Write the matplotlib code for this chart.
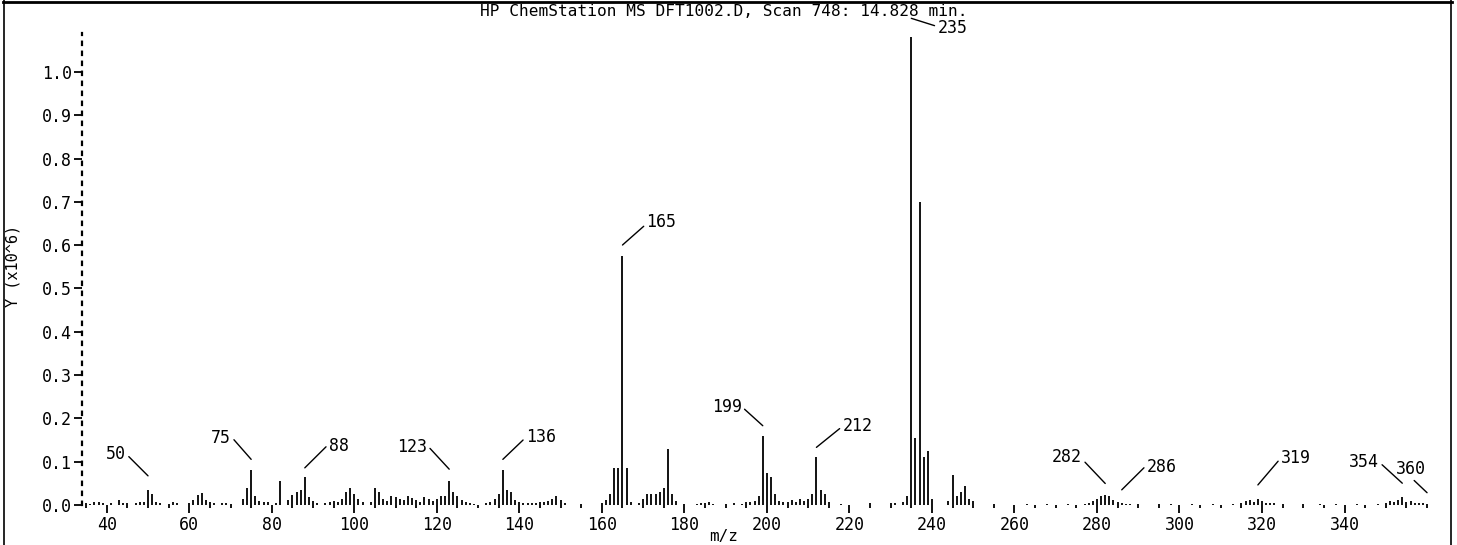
import matplotlib
matplotlib.use("Agg")
import matplotlib.pyplot as plt
from matplotlib.lines import Line2D
from matplotlib.transforms import offset_copy

# ---------------- data (intensity in units of 1e6) ----------------
mz = [35, 36, 37, 38, 39, 41, 43, 44, 45, 47, 48, 49, 50, 51, 52, 53, 55, 56, 57,
      60, 61, 62, 63, 64, 65, 66, 68, 69, 70, 73, 74, 75, 76, 77, 78, 79, 81, 82,
      84, 85, 86, 87, 88, 89, 90, 91, 93, 94, 95, 96, 97, 98, 99, 100, 101, 102,
      104, 105, 106, 107, 108, 109, 110, 111, 112, 113, 114, 115, 116, 117, 118,
      119, 120, 121, 122, 123, 124, 125, 126, 127, 128, 129, 132, 133, 134, 135,
      136, 137, 138, 139, 140, 141, 142, 143, 144, 145, 146, 147, 148, 149, 150,
      151, 155, 160, 161, 162, 163, 164, 165, 166, 167, 169, 170, 171, 172, 173,
      174, 175, 176, 177, 178, 180, 183, 184, 185, 186, 187, 190, 192, 194, 195,
      196, 197, 198, 199, 200, 201, 202, 203, 204, 205, 206, 207, 208, 209, 210,
      211, 212, 213, 214, 215, 218, 225, 230, 231, 233, 234, 235, 236, 237, 238,
      239, 240, 244, 245, 246, 247, 248, 249, 250, 255, 263, 268, 273, 277, 278,
      279, 280, 281, 282, 283, 284, 285, 286, 287, 288, 290, 295, 298, 303, 308,
      313, 315, 316, 317, 318, 319, 320, 321, 322, 323, 325, 330, 334, 338, 343,
      348, 350, 351, 352, 353, 354, 355, 356, 357, 358, 359, 360]
intensity = [0.004, 0.003, 0.008, 0.006, 0.005, 0.004, 0.012, 0.004, 0.005, 0.004,
             0.006, 0.008, 0.035, 0.025, 0.008, 0.004, 0.003, 0.006, 0.004,
             0.005, 0.012, 0.022, 0.028, 0.012, 0.008, 0.004, 0.004, 0.005, 0.003,
             0.015, 0.040, 0.080, 0.020, 0.010, 0.006, 0.006, 0.004, 0.055,
             0.012, 0.022, 0.030, 0.035, 0.065, 0.018, 0.010, 0.005, 0.005, 0.008,
             0.010, 0.006, 0.015, 0.030, 0.040, 0.025, 0.015, 0.008,
             0.008, 0.040, 0.030, 0.015, 0.010, 0.020, 0.018, 0.015, 0.012, 0.020,
             0.016, 0.012, 0.008, 0.018, 0.014,
             0.010, 0.015, 0.020, 0.020, 0.055, 0.030, 0.020, 0.012, 0.008, 0.005,
             0.003, 0.004, 0.008, 0.015, 0.025,
             0.080, 0.035, 0.030, 0.012, 0.008, 0.005, 0.004, 0.004, 0.005, 0.006,
             0.008, 0.010, 0.015, 0.020, 0.012,
             0.005, 0.003, 0.005, 0.012, 0.025, 0.085, 0.085, 0.575, 0.085, 0.008,
             0.005, 0.015, 0.025, 0.025, 0.025,
             0.030, 0.040, 0.130, 0.025, 0.010, 0.003, 0.003, 0.005, 0.004, 0.008,
             0.003, 0.003, 0.004, 0.003, 0.006,
             0.008, 0.010, 0.020, 0.160, 0.075, 0.065, 0.025, 0.010, 0.008, 0.006,
             0.012, 0.008, 0.015, 0.010, 0.015,
             0.025, 0.110, 0.035, 0.025, 0.008, 0.003, 0.005, 0.004, 0.005, 0.008,
             0.020, 1.080, 0.155, 0.700, 0.110,
             0.125, 0.015, 0.010, 0.070, 0.020, 0.030, 0.045, 0.015, 0.010, 0.003,
             0.003, 0.003, 0.003, 0.003, 0.005,
             0.010, 0.015, 0.020, 0.022, 0.020, 0.012, 0.006, 0.005, 0.003, 0.003,
             0.003, 0.003, 0.003, 0.003, 0.003,
             0.003, 0.004, 0.010, 0.012, 0.008, 0.014, 0.010, 0.005, 0.004, 0.004,
             0.003, 0.003, 0.003, 0.003, 0.003,
             0.003, 0.005, 0.010, 0.008, 0.012, 0.018, 0.008, 0.010, 0.005, 0.005,
             0.004, 0.003]

labelled_peaks = [50, 75, 88, 123, 136, 165, 199, 212, 235, 282, 286, 319, 354, 360]
x_ticks = [40, 60, 80, 100, 120, 140, 160, 180, 200, 220, 240, 260, 280, 300, 320, 340]
y_ticks = [0.0, 0.1, 0.2, 0.3, 0.4, 0.5, 0.6, 0.7, 0.8, 0.9, 1.0]
title = "HP ChemStation MS DFT1002.D, Scan 748: 14.828 min."
x_label = "m/z"
y_label = "Y (x10^6)"

# ---------------- layout / style ----------------
W, H = 1457, 545
FONT = "DejaVu Sans Mono"
plt.rcParams["font.family"] = [FONT, "DejaVu Sans"]

fig = plt.figure(figsize=(W / 100, H / 100), dpi=100)
ax = fig.add_axes([82 / W, 40 / H, (1432 - 82) / W, (505 - 33) / H])
ax.set_xlim(34, 361.2)
ax.set_ylim(0, 1.09)

ax.vlines(mz, 0, intensity, colors="black", linewidth=1.3)

for s in ["top", "right", "bottom"]:
    ax.spines[s].set_visible(False)
ax.spines["left"].set_linestyle((0, (1.5, 3)))
ax.spines["left"].set_linewidth(1.6)

ax.set_xticks(x_ticks)
ax.set_xticklabels([str(v) for v in x_ticks])
ax.set_xticks([v for v in range(35, 361, 5) if v not in x_ticks], minor=True)
ax.set_yticks(y_ticks)
ax.set_yticklabels([f"{v:.1f}" for v in y_ticks])
ax.tick_params(axis="x", which="major", direction="out", length=5.5, width=1.3,
               pad=2.5, labelsize=12)
ax.tick_params(axis="x", which="minor", direction="out", length=2, width=1.3)
ax.tick_params(axis="y", which="major", direction="out", length=6, width=1.3,
               pad=1, labelsize=12)

fig.text(724 / W, 1 - 537 / H, x_label, ha="center", va="center", fontsize=11.5)
fig.text(13 / W, 1 - 266 / H, y_label, rotation=90, ha="center", va="center",
         fontsize=11)
fig.text(724 / W, 1 - 12 / H, title, ha="center", va="center", fontsize=11.6)

# label layout: (dx px, dy px of text centre from peak top, gap px, relpos)
label_layout = {
    50: (-32, 36, 14, (1, 0.5)),
    75: (-30, 32, 11, (1, 0.6)),
    88: (34, 31, 9, (0, 0.6)),
    123: (-37, 34, 12, (1, 0.6)),
    136: (38, 33, 11, (0, 0.5)),
    165: (39, 34, 11, (0, 0.4)),
    199: (-36, 29, 10, (1, 0.5)),
    212: (41, 31, 10, (0, 0.5)),
    235: (41, 9, 19, (0, 0.6)),
    282: (-38, 38, 12, (1, 0.4)),
    286: (40, 36, 13, (0, 0.6)),
    319: (38, 41, 14, (0, 0.5)),
    354: (-38, 35, 14, (1, 0.5)),
    360: (-16, 35, 11, (0, 0.8)),
}
lookup = dict(zip(mz, intensity))
px2pt = 0.72
for p in labelled_peaks:
    dx, dy, gap, rel = label_layout[p]
    tr = offset_copy(ax.transData, fig=fig, x=0, y=gap * px2pt, units="points")
    ax.annotate(str(p), xy=(p, lookup[p]), xycoords=tr,
                xytext=(dx * px2pt, (dy - gap) * px2pt), textcoords="offset points",
                ha="center", va="center", fontsize=12, annotation_clip=False,
                arrowprops=dict(arrowstyle="-", color="black", lw=1.0,
                                shrinkA=0, shrinkB=0, relpos=rel))

# outer frame of the scanned page
fig.add_artist(Line2D([3 / W, 1452 / W], [1 - 1.5 / H, 1 - 1.5 / H], color="black",
                      linewidth=2.0, transform=fig.transFigure))
fig.add_artist(Line2D([4 / W, 4 / W], [0, 1], color="black", linewidth=1.2,
                      transform=fig.transFigure))
fig.add_artist(Line2D([1451 / W, 1451 / W], [0, 1], color="black", linewidth=1.2,
                      transform=fig.transFigure))

fig.savefig("out.png", dpi=100, facecolor="white")
